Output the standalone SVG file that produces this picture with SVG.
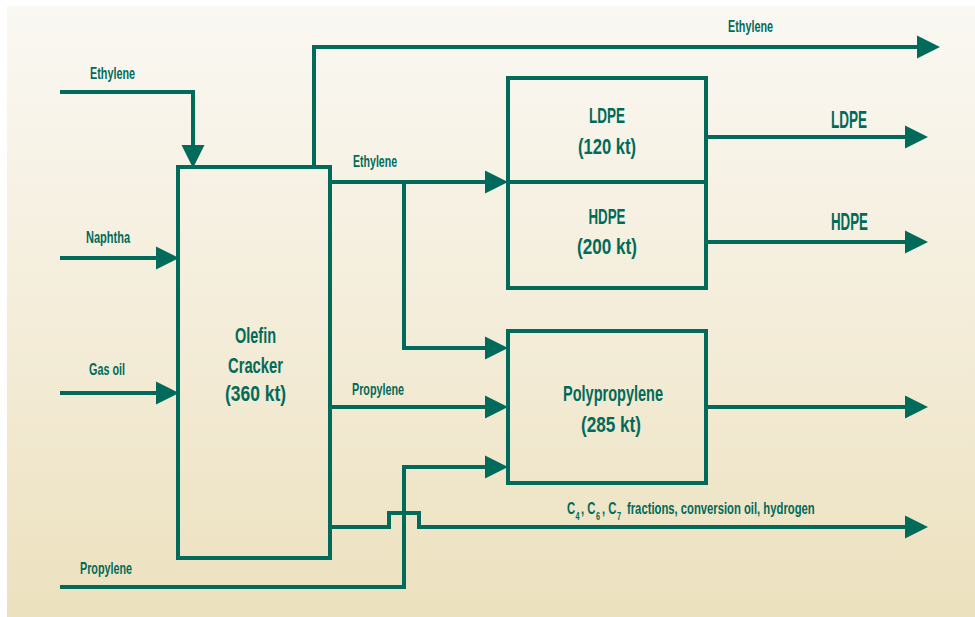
<svg xmlns="http://www.w3.org/2000/svg" width="975" height="617" viewBox="0 0 975 617">
<defs>
<linearGradient id="bg" x1="0" y1="0" x2="0" y2="1">
<stop offset="0" stop-color="#FAF8F3"/>
<stop offset="0.5" stop-color="#F4EDDA"/>
<stop offset="1" stop-color="#ECE1BE"/>
</linearGradient>
<marker id="ah" markerUnits="userSpaceOnUse" markerWidth="24" markerHeight="24" viewBox="0 -12 23 24" refX="0" refY="0" orient="auto" overflow="visible">
<path d="M0,-11.5 L23,0 L0,11.5 z" fill="#006B5A"/>
</marker>
</defs>
<style>
.ln{fill:none;stroke:#006B5A;stroke-width:4;marker-end:url(#ah)}
.box{fill:none;stroke:#006B5A;stroke-width:4}
text{font-family:"Liberation Sans",Arial,sans-serif;font-weight:bold;fill:#006B5A}
.s{font-size:17px}
.sub{font-size:11px}
.b{font-size:22px;text-anchor:middle}
.r{font-size:23px}
</style>
<rect x="7" y="6" width="968" height="611" fill="url(#bg)"/>

<g id="connectors">
<path class="ln" d="M60,92 H193 V145"/>
<path class="ln" d="M60,258 H156"/>
<path class="ln" d="M60,393 H156"/>
<path class="ln" d="M314,167 V47 H917"/>
<path class="ln" d="M330,182 H485"/>
<path class="ln" d="M404,182 V348 H485"/>
<path class="ln" d="M330,407 H485"/>
<path class="ln" d="M60,587 H404 V467 H485"/>
<path class="ln" d="M330,527 H389 V513 H419 V527 H905"/>
<path class="ln" d="M706,137 H905"/>
<path class="ln" d="M706,242 H905"/>
<path class="ln" d="M706,407 H905"/>
</g>

<g id="labels">
<text class="s" x="90" y="79" textLength="45" lengthAdjust="spacingAndGlyphs">Ethylene</text>
<text class="s" x="86" y="243" textLength="44" lengthAdjust="spacingAndGlyphs">Naphtha</text>
<text class="s" x="89" y="375" textLength="36" lengthAdjust="spacingAndGlyphs">Gas oil</text>
<text class="s" x="80" y="574" textLength="52" lengthAdjust="spacingAndGlyphs">Propylene</text>
<text class="s" x="353" y="167" textLength="44" lengthAdjust="spacingAndGlyphs">Ethylene</text>
<text class="s" x="352" y="395" textLength="52" lengthAdjust="spacingAndGlyphs">Propylene</text>
<text class="s" x="728" y="32" textLength="45" lengthAdjust="spacingAndGlyphs">Ethylene</text>
<text class="r" x="831" y="128" textLength="36" lengthAdjust="spacingAndGlyphs">LDPE</text>
<text class="r" x="831" y="230" textLength="37" lengthAdjust="spacingAndGlyphs">HDPE</text>
<g id="byproducts-label" transform="translate(567,0) scale(0.663,1)">
<text class="s" x="0" y="514">C</text>
<text class="sub" x="12.8" y="520">4</text>
<text class="s" x="21.1" y="514">, C</text>
<text class="sub" x="43.7" y="520">6</text>
<text class="s" x="52.8" y="514">, C</text>
<text class="sub" x="75.4" y="520">7</text>
<text class="s" x="90.5" y="514">fractions, conversion oil, hydrogen</text>
</g>
</g>

<g id="cracker">
<rect class="box" x="178" y="167" width="152" height="391"/>
<text class="b" x="255.5" y="343" textLength="41" lengthAdjust="spacingAndGlyphs">Olefin</text>
<text class="b" x="255.5" y="373" textLength="55" lengthAdjust="spacingAndGlyphs">Cracker</text>
<text class="b" x="255.5" y="401" textLength="61" lengthAdjust="spacingAndGlyphs">(360 kt)</text>
</g>

<g id="ldpe">
<rect class="box" x="508" y="78" width="198" height="104"/>
<text class="b" x="607" y="123" textLength="36" lengthAdjust="spacingAndGlyphs">LDPE</text>
<text class="b" x="607" y="154" textLength="58" lengthAdjust="spacingAndGlyphs">(120 kt)</text>
</g>

<g id="hdpe">
<rect class="box" x="508" y="182" width="198" height="106"/>
<text class="b" x="607" y="224" textLength="37" lengthAdjust="spacingAndGlyphs">HDPE</text>
<text class="b" x="607" y="254" textLength="60" lengthAdjust="spacingAndGlyphs">(200 kt)</text>
</g>

<g id="polypropylene">
<rect class="box" x="508" y="331" width="198" height="152"/>
<text class="b" x="613" y="401" textLength="100" lengthAdjust="spacingAndGlyphs">Polypropylene</text>
<text class="b" x="611" y="432" textLength="60" lengthAdjust="spacingAndGlyphs">(285 kt)</text>
</g>
</svg>
